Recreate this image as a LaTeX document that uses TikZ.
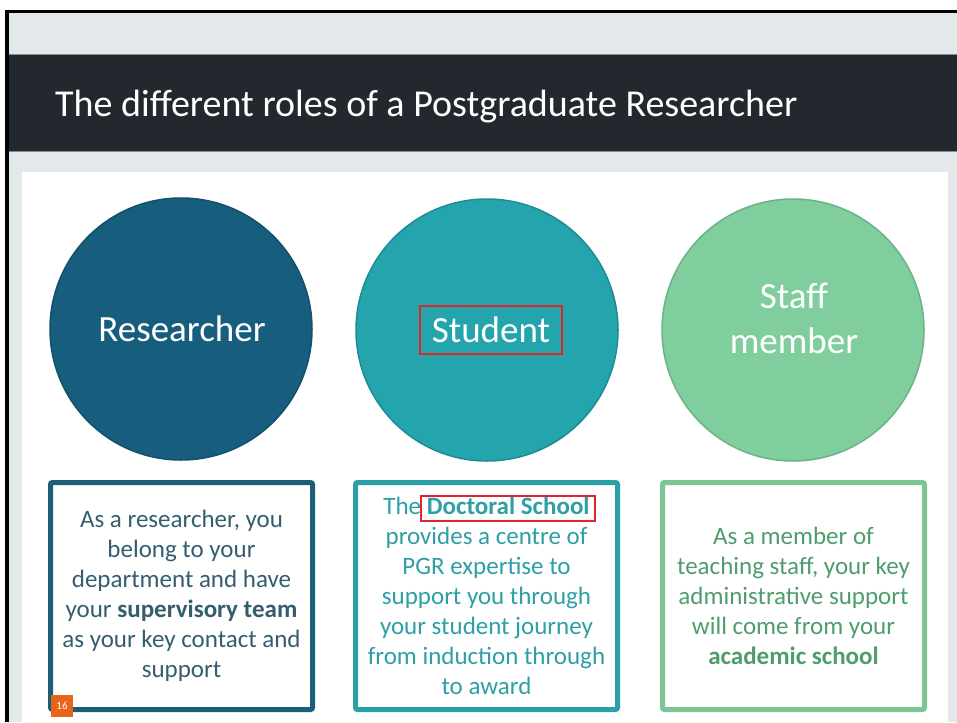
\documentclass[tikz,border=0pt]{standalone}
\usepackage{fontspec}
\setmainfont{Carlito}
\definecolor{bggray}{HTML}{E3E8EA}
\definecolor{band}{HTML}{22282E}
\definecolor{bandline}{HTML}{858B90}
\definecolor{cA}{HTML}{175E7E}
\definecolor{cAd}{HTML}{12506C}
\definecolor{cB}{HTML}{24A4AC}
\definecolor{cBd}{HTML}{1E8C93}
\definecolor{cC}{HTML}{80CD9E}
\definecolor{cCd}{HTML}{6AB487}
\definecolor{bA}{HTML}{1B5E78}
\definecolor{bB}{HTML}{2A9FA5}
\definecolor{bC}{HTML}{7CC594}
\definecolor{tA}{HTML}{345E70}
\definecolor{tB}{HTML}{2E9FA5}
\definecolor{tC}{HTML}{4F9C6C}
\definecolor{myred}{HTML}{E2232A}
\definecolor{myorange}{HTML}{E8641B}
\begin{document}
\begin{tikzpicture}[x=1pt,y=-1pt,
  role/.style={circle, minimum size=262pt, inner sep=0pt, line width=1.5pt},
  rolelabel/.style={text=white, font=\fontsize{37}{45}\selectfont, align=center, inner sep=0pt},
  infobox/.style={rectangle, rounded corners=2pt, line width=5pt, fill=white,
    minimum width=262pt, minimum height=227pt, inner sep=0pt, align=center,
    font=\fontsize{25}{30}\selectfont},
  redframe/.style={draw=myred, line width=2pt, fill=none}]
\useasboundingbox (0,0) rectangle (957,722);
\fill[white] (0,0) rectangle (957,722);
\fill[black] (5,10) rectangle (957,13);
\fill[black] (5,10) rectangle (9,722);
\fill[bggray] (9,13) rectangle (957,722);
\fill[band] (9,54) rectangle (957,152);
\draw[bandline, line width=1pt] (9,54.5) -- (957,54.5) (9,151.5) -- (957,151.5);
\fill[white] (22,172) rectangle (948,722);

\node[anchor=base west, text=white, font=\fontsize{38}{40}\selectfont, inner sep=0pt] (title) at (55,117) {The different roles of a Postgraduate Researcher};

\node[role, fill=cA, draw=cAd] (researcher) at (181,329) {};
\node[rolelabel] (researcherlbl) at (182,329) {Researcher};
\node[role, fill=cB, draw=cBd] (student) at (487,330) {};
\node[rolelabel, redframe, inner xsep=12pt, minimum height=48pt] (studentlbl) at (491,330) {Student};
\node[role, fill=cC, draw=cCd] (staff) at (793,330) {};
\node[rolelabel] (stafflbl) at (794,318) {Staff\\member};

\node[infobox, draw=bA, text=tA] (boxA) at (181.5,596) {As a researcher, you\\belong to your\\department and have\\your \textbf{supervisory team}\\as your key contact and\\support};
\node[infobox, draw=bB, text=tB] (boxB) at (486.5,596) {The \textbf{Doctoral School}\\provides a centre of\\PGR expertise to\\support you through\\your student journey\\from induction through\\to award};
\node[redframe, minimum width=174pt, minimum height=25pt, inner sep=0pt] (dsframe) at (508,508.5) {};
\node[infobox, draw=bC, text=tC] (boxC) at (793.5,596) {As a member of\\teaching staff, your key\\administrative support\\will come from your\\\textbf{academic school}};

\node[fill=myorange, text=white, minimum size=22pt, inner sep=0pt, font=\fontsize{11}{11}\selectfont] (page) at (62,706) {16};
\end{tikzpicture}
\end{document}
